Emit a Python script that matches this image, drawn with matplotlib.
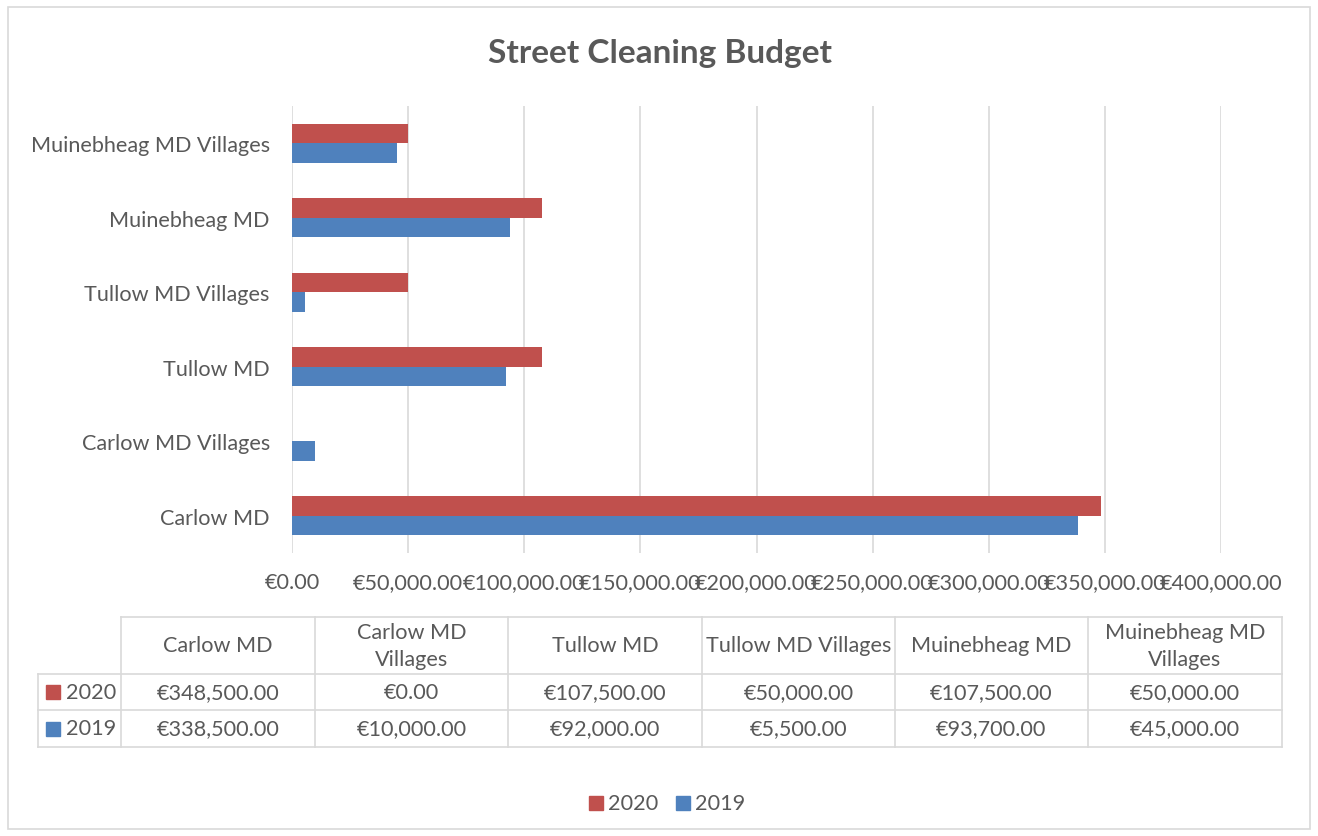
import matplotlib
matplotlib.use("Agg")
import matplotlib.pyplot as plt
from matplotlib.patches import Rectangle
from matplotlib.lines import Line2D
import numpy as np

plt.rcParams['font.family'] = ['Lato', 'DejaVu Sans']

categories = ["Carlow MD", "Carlow MD Villages", "Tullow MD", "Tullow MD Villages",
              "Muinebheag MD", "Muinebheag MD Villages"]
table_headers = ["Carlow MD", "Carlow MD\nVillages", "Tullow MD", "Tullow MD Villages",
                 "Muinebheag MD", "Muinebheag MD\nVillages"]
values_2020 = [348500, 0, 107500, 50000, 107500, 50000]
values_2019 = [338500, 10000, 92000, 5500, 93700, 45000]
series_names = ["2020", "2019"]
x_ticks = [0, 50000, 100000, 150000, 200000, 250000, 300000, 350000, 400000]

RED = "#C0504D"
BLUE = "#4F81BD"
TXT = "#595959"
GRID = "#D9D9D9"
FS = 15.6

W, H = 1318, 837
fig = plt.figure(figsize=(W / 100, H / 100), dpi=100)

def fx(x):
    return x / W

def fy(y):
    return 1 - y / H

# outer border
fig.patches.append(Rectangle((fx(8), fy(830)), fx(1310) - fx(8), fy(8) - fy(830),
                             transform=fig.transFigure, fill=False, edgecolor=GRID, lw=1.2))

ax = fig.add_axes([fx(292), fy(554), fx(1221) - fx(292), fy(107) - fy(554)])
y = np.arange(len(categories))
bh = 0.26
ax.barh(y + bh / 2, values_2020, height=bh, color=RED, zorder=3)
ax.barh(y - bh / 2, values_2019, height=bh, color=BLUE, zorder=3)
ax.set_ylim(-0.5, len(categories) - 0.5)
ax.set_xlim(0, 400000)
ax.set_xticks(x_ticks)
ax.set_xticklabels([f"€{v:,.2f}" for v in x_ticks])
ax.set_yticks(y)
ax.set_yticklabels(categories)
ax.tick_params(axis='both', length=0, labelsize=FS, colors=TXT)
ax.tick_params(axis='x', pad=14)
ax.tick_params(axis='y', pad=16)
ax.grid(axis='x', color=GRID, lw=1.2, zorder=0)
for s in ax.spines.values():
    s.set_visible(False)

fig.text(fx(660), fy(53), "Street Cleaning Budget", ha='center', va='center',
         fontsize=24, fontweight='bold', color=TXT)

# data table
col_edges = [38, 121, 315, 508, 702, 895, 1088, 1282]
row_edges = [618, 675, 711, 748]

def hline(x0, x1, yy):
    fig.lines.append(Line2D([fx(x0), fx(x1)], [fy(yy), fy(yy)], transform=fig.transFigure,
                            color=GRID, lw=1.2))

def vline(xx, y0, y1):
    fig.lines.append(Line2D([fx(xx), fx(xx)], [fy(y0), fy(y1)], transform=fig.transFigure,
                            color=GRID, lw=1.2))

hline(col_edges[1], col_edges[-1], row_edges[0])
for r in row_edges[1:]:
    hline(col_edges[0], col_edges[-1], r)
vline(col_edges[0], row_edges[1], row_edges[-1])
for c in col_edges[1:]:
    vline(c, row_edges[0], row_edges[-1])

for i, hdr in enumerate(table_headers):
    cx = (col_edges[i + 1] + col_edges[i + 2]) / 2
    cy = (row_edges[0] + row_edges[1]) / 2
    fig.text(fx(cx), fy(cy), hdr, ha='center', va='center', fontsize=FS, color=TXT,
             linespacing=1.45)

for r, (name, vals, col) in enumerate(zip(series_names, [values_2020, values_2019], [RED, BLUE])):
    cy = (row_edges[r + 1] + row_edges[r + 2]) / 2
    fig.patches.append(Rectangle((fx(46), fy(cy + 7)), fx(14), fy(cy - 7) - fy(cy + 7),
                                 transform=fig.transFigure, color=col))
    fig.text(fx(66), fy(cy), name, ha='left', va='center', fontsize=FS, color=TXT)
    for i, v in enumerate(vals):
        cx = (col_edges[i + 1] + col_edges[i + 2]) / 2
        fig.text(fx(cx), fy(cy), f"€{v:,.2f}", ha='center', va='center', fontsize=FS,
                 color=TXT)

# legend
leg_y = 804
for lx, name, col in [(589, series_names[0], RED), (676, series_names[1], BLUE)]:
    fig.patches.append(Rectangle((fx(lx), fy(leg_y + 7)), fx(14), fy(leg_y - 7) - fy(leg_y + 7),
                                 transform=fig.transFigure, color=col))
    fig.text(fx(lx + 19), fy(leg_y), name, ha='left', va='center', fontsize=FS, color=TXT)

fig.savefig("out.png", dpi=100)
